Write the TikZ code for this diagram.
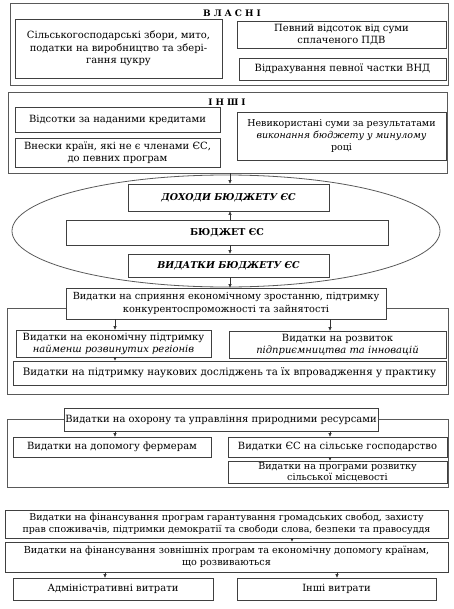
\documentclass[tikz,border=0pt]{standalone}
\usepackage{fontspec}
\setmainfont{DejaVu Serif}
\usetikzlibrary{arrows.meta}
\tikzset{
  bx/.style={draw=black!75, line width=0.7bp, fill=white, inner sep=0pt, align=center,
    text=black, font=\fontsize{10}{12.5}\selectfont},
  grp/.style={draw=black!65, line width=0.9bp, inner sep=0pt},
  ttl/.style={inner sep=0pt, text=black, font=\fontsize{9}{11}\selectfont\bfseries},
  arr/.style={-{Triangle[length=3.5bp,width=3bp]}, draw=black!80, line width=0.6bp},
}
\begin{document}
\begin{tikzpicture}[x=1bp,y=-1bp]
\useasboundingbox (0,0) rectangle (454,609);
% group frames
\node[grp, minimum width=438bp, minimum height=82bp] (G1) at (229,44) {};
\node[grp, minimum width=439bp, minimum height=81bp] (G2) at (227.5,132.5) {};
\node[grp, minimum width=441bp, minimum height=86bp] (G3) at (227.5,351) {};
\node[grp, minimum width=441bp, minimum height=68bp] (G4) at (227.5,453) {};
\draw[draw=black!65, line width=0.8bp] (226,231) ellipse [x radius=214bp, y radius=56bp];
% titles
\node[ttl] (t1) at (232,13) {В\hspace{3bp}Л\hspace{3bp}А\hspace{3bp}С\hspace{3bp}Н\hspace{3bp}І};
\node[ttl] (t2) at (227,102) {І\hspace{3bp}Н\hspace{3bp}Ш\hspace{3bp}І};
% own revenues
\node[bx, minimum width=207bp, minimum height=59bp] (A1) at (118.5,48.5) {Сільськогосподарські збори, мито,\\податки на виробництво та збері-\\гання цукру};
\node[bx, minimum width=209bp, minimum height=27bp] (A2) at (341.5,34.5) {Певний відсоток від суми\\сплаченого ПДВ};
\node[bx, minimum width=207bp, minimum height=22bp] (A3) at (342.5,69) {Відрахування певної частки ВНД};
% other revenues
\node[bx, minimum width=205bp, minimum height=25bp] (B1) at (117.5,119.5) {Відсотки за наданими кредитами};
\node[bx, minimum width=205bp, minimum height=29bp] (B2) at (117.5,152.5) {Внески країн, які не є членами ЄС,\\до певних програм};
\node[bx, minimum width=209bp, minimum height=48bp, font=\fontsize{9.5}{12.5}\selectfont] (B3) at (341.5,136) {Невикористані суми за результатами\\\textit{виконання бюджету у минулому}\\році};
% budget
\node[bx, minimum width=201bp, minimum height=27bp, font=\fontsize{9.5}{11}\selectfont\bfseries\itshape] (D) at (228.5,197.5) {ДОХОДИ БЮДЖЕТУ ЄС};
\node[bx, minimum width=322bp, minimum height=25bp, font=\fontsize{9.5}{11}\selectfont\bfseries] (E) at (227,232.5) {БЮДЖЕТ ЄС};
\node[bx, minimum width=201bp, minimum height=23bp, font=\fontsize{9.5}{11}\selectfont\bfseries\itshape] (V) at (228.5,265.5) {ВИДАТКИ БЮДЖЕТУ ЄС};
% growth group
\node[bx, minimum width=320bp, minimum height=31bp, font=\fontsize{9.8}{12.5}\selectfont] (S1) at (226,303.5) {Видатки на сприяння економічному зростанню, підтримку\\конкурентоспроможності та зайнятості};
\node[bx, minimum width=195bp, minimum height=27bp, font=\fontsize{10}{12}\selectfont] (S2) at (113.5,343.5) {Видатки на економічну підтримку\\\textit{найменш розвинутих регіонів}};
\node[bx, minimum width=217bp, minimum height=27bp, font=\fontsize{10}{12}\selectfont] (S3) at (337.5,344.5) {Видатки на розвиток\\\textit{підприємництва та інновацій}};
\node[bx, minimum width=433bp, minimum height=24bp, font=\fontsize{10.3}{12.5}\selectfont] (S4) at (229.5,373) {Видатки на підтримку наукових досліджень та їх впровадження у практику};
% nature group
\node[bx, minimum width=314bp, minimum height=23bp] (N1) at (221,419.5) {Видатки на охорону та управління природними ресурсами};
\node[bx, minimum width=198bp, minimum height=20bp] (N2) at (112,447) {Видатки на допомогу фермерам};
\node[bx, minimum width=219bp, minimum height=20bp] (N3) at (337.5,447) {Видатки ЄС на сільське господарство};
\node[bx, minimum width=219bp, minimum height=22bp, font=\fontsize{9.6}{10.5}\selectfont] (N4) at (337.5,472) {Видатки на програми розвитку\\сільської місцевості};
% bottom
\node[bx, minimum width=443bp, minimum height=28bp, font=\fontsize{9.5}{12}\selectfont] (F1) at (226.5,524) {Видатки на фінансування програм гарантування громадських свобод, захисту\\прав споживачів, підтримки демократії та свободи слова, безпеки та правосуддя};
\node[bx, minimum width=443bp, minimum height=30bp, font=\fontsize{9.7}{12.5}\selectfont] (F2) at (226.5,557) {Видатки на фінансування зовнішніх програм та економічну допомогу країнам,\\що розвиваються};
\node[bx, minimum width=200bp, minimum height=22bp] (F3) at (113,589) {Адміністративні витрати};
\node[bx, minimum width=199bp, minimum height=22bp] (F4) at (336.5,589) {Інші витрати};
% arrow columns
\coordinate (cM) at (230,0);
\coordinate (cL) at (115,0);
\coordinate (cR) at (330,0);
\coordinate (cF) at (292,0);
\coordinate (cA) at (105,0);
\coordinate (cB) at (337,0);
% arrows
\draw[arr] (cM |- G2.south) -- (cM |- D.north);
\draw[arr] (cM |- E.north) -- (cM |- D.south);
\draw[arr] (cM |- E.south) -- (cM |- V.north);
\draw[arr] (cM |- V.south) -- (cM |- S1.north);
\draw[arr] (cL |- S1.south) -- (cL |- S2.north);
\draw[arr] (cR |- S1.south) -- (cR |- S3.north);
\draw[arr] (cL |- S2.south) -- (cL |- S4.north);
\draw[arr] (cL |- N1.south) -- (cL |- N2.north);
\draw[arr] (cR |- N1.south) -- (cR |- N3.north);
\draw[arr] (cR |- N3.south) -- (cR |- N4.north);
\draw[arr] (cF |- F1.south) -- (cF |- F2.north);
\draw[arr] (cA |- F2.south) -- (cA |- F3.north);
\draw[arr] (cB |- F2.south) -- (cB |- F4.north);
\end{tikzpicture}
\end{document}
